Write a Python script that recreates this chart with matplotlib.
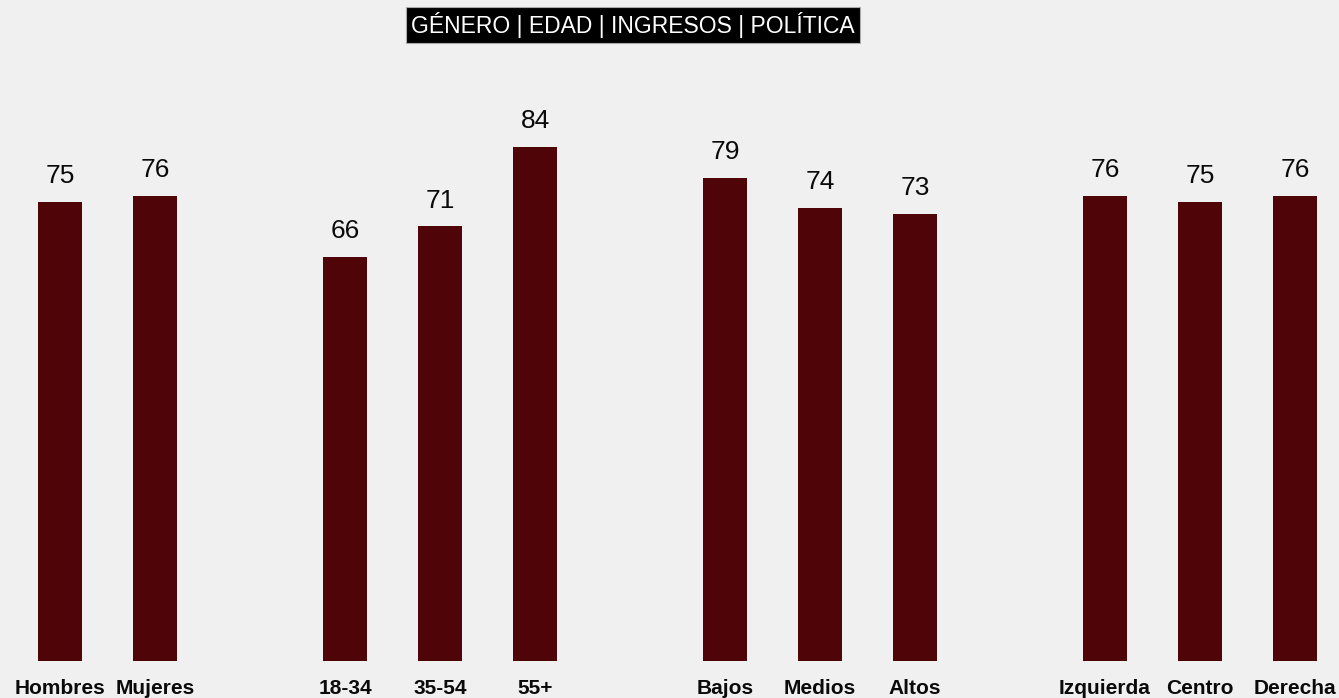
import matplotlib
matplotlib.use("Agg")
import matplotlib.pyplot as plt

plt.rcParams['font.family'] = ['Liberation Sans', 'DejaVu Sans']

categories = ["Hombres", "Mujeres", "18-34", "35-54", "55+",
              "Bajos", "Medios", "Altos", "Izquierda", "Centro", "Derecha"]
values = [75, 76, 66, 71, 84, 79, 74, 73, 76, 75, 76]
# slot index of each bar; one empty slot separates the groups
positions = [0, 1, 3, 4, 5, 7, 8, 9, 11, 12, 13]
title = "GÉNERO | EDAD | INGRESOS | POLÍTICA"

bg = "#f0f0f0"
bar_color = "#4f0508"

fig = plt.figure(figsize=(13.39, 6.98), dpi=100, facecolor=bg)
ax = fig.add_axes([0, 37 / 698, 1, 661 / 698], facecolor=bg)

bars = ax.bar(positions, values, width=0.465, color=bar_color)
for x, v in zip(positions, values):
    ax.annotate(f"{v}", xy=(x, v), xytext=(0, 10), textcoords="offset points",
                ha="center", va="bottom", fontsize=19, color="#0a0a0a")

ax.set_xlim(-60 / 95, (1339 - 60) / 95)
ax.set_ylim(0, 661 / 6.12)
ax.set_xticks(positions)
ax.set_xticklabels(categories, fontsize=15, fontweight="bold", color="#0a0a0a")
ax.tick_params(axis="x", length=0, pad=13)
ax.set_yticks([])
for s in ax.spines.values():
    s.set_visible(False)

fig.text(633 / 1339, 1 - 25 / 698, title, ha="center", va="center",
         fontsize=16.5, color="white",
         bbox=dict(boxstyle="square,pad=0.22", facecolor="black",
                   edgecolor="#aaaaaa", linewidth=0.8))

fig.savefig("out.png", dpi=100, facecolor=bg)
